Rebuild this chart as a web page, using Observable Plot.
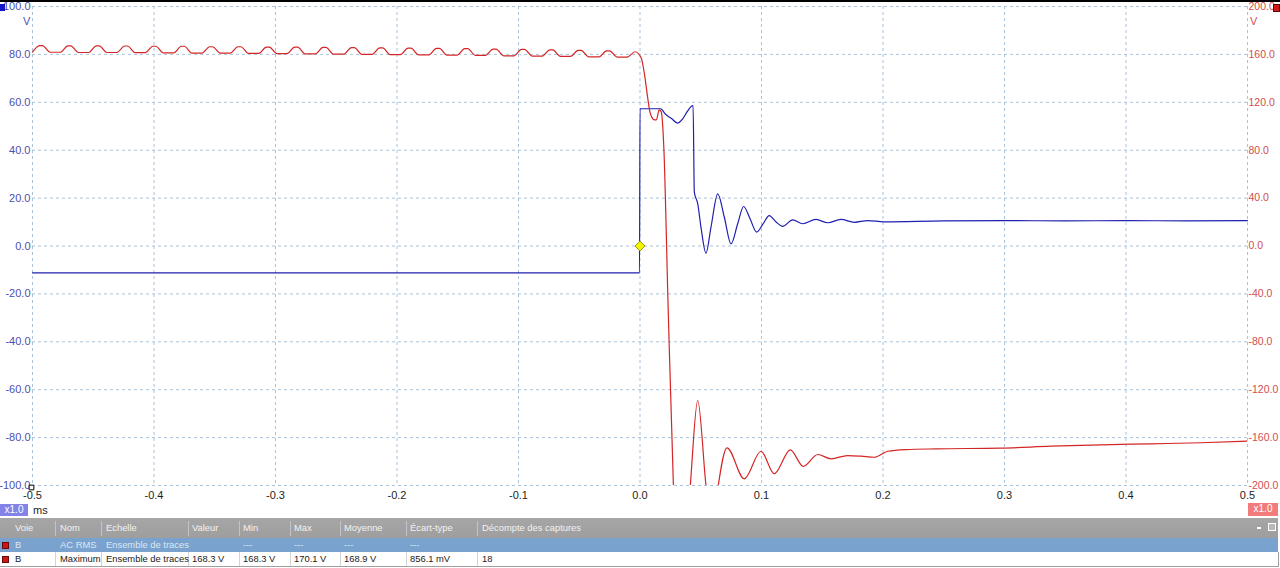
<!DOCTYPE html>
<html>
<head>
<meta charset="utf-8">
<script src="https://cdn.jsdelivr.net/npm/d3@7"></script>
<script src="https://cdn.jsdelivr.net/npm/@observablehq/plot@0.6"></script>
<style>
  body { margin: 0; background: #fff; font-family: "Liberation Sans", Arial, sans-serif; }
  #wrap { position: relative; width: 1280px; height: 568px; overflow: hidden; background: #fff; }
  #chart { position: absolute; left: 0; top: 0; }
  .abs { position: absolute; white-space: nowrap; }
  .badge { position: absolute; color: #fff; font-size: 10px; text-align: center; line-height: 12px; }
  .row { position: absolute; left: 0; width: 1278px; }
  .cell { position: absolute; font-size: 9.4px; white-space: nowrap; }
  .sep { position: absolute; width: 1px; }
  .sq { position: absolute; width: 5px; height: 5px; background: #c81818; border: 1px solid #6a0a0a; }
</style>
</head>
<body>
<div id="wrap">
  <div id="chart"></div>
</div>
<script>
// ---------- data ----------
const xTicks = [-0.5, -0.4, -0.3, -0.2, -0.1, 0, 0.1, 0.2, 0.3, 0.4, 0.5];
const yTicks = [-100, -80, -60, -40, -20, 0, 20, 40, 60, 80, 100];
const rightRatio = 200 / 100; // right axis range / left axis range

// Channel A (blue, left axis, V) — time in ms
const blueT = [-0.5, -0.3, -0.1, -0.0004, 0.0, 0.017, 0.021, 0.026, 0.031, 0.035, 0.039, 0.042, 0.0437,
  0.0447, 0.0475, 0.0502, 0.0543, 0.0584, 0.0640, 0.0694, 0.0749, 0.0804, 0.0853, 0.0905, 0.0960,
  0.1010, 0.1064, 0.1120, 0.1174, 0.1257, 0.1339, 0.1449, 0.1545, 0.1654, 0.1764, 0.1874, 0.2008,
  0.25, 0.30, 0.35, 0.40, 0.45, 0.5];
const blueV = [-11.2, -11.2, -11.2, -11.2, 57.3, 57.3, 55.0, 53.2, 51.3, 53.0, 56.2, 58.2, 58.6,
  22.5, 17.7, 7.8, -3.0, 7.8, 21.8, 12.0, 0.9, 9.3, 16.5, 11.5, 5.8,
  9.0, 12.7, 10.0, 8.2, 10.9, 9.3, 11.1, 9.7, 11.1, 9.9, 10.6, 10.1,
  10.5, 10.6, 10.5, 10.6, 10.5, 10.6];

// Channel B (red, right axis, V) — time in ms
const redT = [
  -0.5000, -0.4942, -0.4918, -0.4855,
  -0.4772, -0.4709, -0.4685, -0.4622,
  -0.4538, -0.4475, -0.4451, -0.4388,
  -0.4305, -0.4242, -0.4218, -0.4155,
  -0.4072, -0.4009, -0.3985, -0.3922,
  -0.3838, -0.3775, -0.3751, -0.3688,
  -0.3605, -0.3542, -0.3518, -0.3455,
  -0.3372, -0.3309, -0.3285, -0.3222,
  -0.3138, -0.3075, -0.3051, -0.2988,
  -0.2905, -0.2842, -0.2818, -0.2755,
  -0.2672, -0.2609, -0.2585, -0.2522,
  -0.2438, -0.2375, -0.2351, -0.2288,
  -0.2205, -0.2142, -0.2118, -0.2055,
  -0.1972, -0.1909, -0.1885, -0.1822,
  -0.1738, -0.1675, -0.1651, -0.1588,
  -0.1505, -0.1442, -0.1418, -0.1355,
  -0.1272, -0.1209, -0.1185, -0.1122,
  -0.1038, -0.0975, -0.0951, -0.0888,
  -0.0805, -0.0742, -0.0718, -0.0655,
  -0.0572, -0.0509, -0.0485, -0.0422,
  -0.0338, -0.0275, -0.0251, -0.0188,
  -0.0105, -0.0040, 0.0010, 0.0036, 0.0063, 0.0085, 0.0118, 0.0135, 0.0158, 0.0175, 0.0197, 0.0230, 0.0275,
  0.0340, 0.0414, 0.0475, 0.0543, 0.0595, 0.0644, 0.0716, 0.0858, 0.0996, 0.1105, 0.1237, 0.1344,
  0.1463, 0.1572, 0.1709, 0.1819, 0.1928, 0.2039, 0.2189, 0.2436, 0.2971, 0.3383, 0.3794, 0.4206,
  0.4617, 0.5];
const redV = [
  161.9, 167.4, 167.4, 161.8,
  161.8, 167.2, 167.2, 161.6,
  161.6, 167.2, 167.2, 161.6,
  161.6, 167.0, 167.0, 161.4,
  161.4, 166.8, 166.8, 161.2,
  161.2, 166.8, 166.8, 161.0,
  161.0, 166.4, 166.4, 161.0,
  161.0, 166.4, 166.4, 160.8,
  160.8, 166.0, 166.0, 160.6,
  160.6, 166.0, 166.0, 160.4,
  160.4, 165.8, 165.8, 160.2,
  160.2, 165.6, 165.6, 160.0,
  160.0, 165.4, 165.4, 159.8,
  159.8, 165.2, 165.2, 159.6,
  159.6, 165.0, 165.0, 159.4,
  159.4, 164.8, 164.8, 159.2,
  159.2, 164.4, 164.4, 158.8,
  158.8, 164.2, 164.2, 158.6,
  158.6, 163.8, 163.8, 158.4,
  158.4, 163.4, 163.4, 158.0,
  158.0, 163.0, 163.0, 157.8,
  157.8, 162.2, 157.0, 144.0, 124.0, 110.6, 105.4, 105.4, 113.7, 112.0, 80.0, -45.0, -200.0,
  -300.0, -200.0, -129.0, -200.0, -240.0, -200.0, -168.5, -194.4, -171.4, -190.2, -170.2, -184.1,
  -174.1, -177.7, -175.0, -175.5, -176.4, -171.4, -170.0, -169.4, -168.8, -167.2, -166.0, -165.2,
  -164.3, -163.0];

const triggerT = [0];
const triggerV = [0];
const originT = [-0.5];
const originV = [-100];

// table text
const headers = ["Voie", "Nom", "Echelle", "Valeur", "Min", "Max", "Moyenne", "Écart-type", "Décompte des captures"];
const row1 = ["B", "AC RMS", "Ensemble de traces", "", "---", "---", "---", "---", ""];
const row2 = ["B", "Maximum", "Ensemble de traces", "168.3 V", "168.3 V", "170.1 V", "168.9 V", "856.1 mV", "18"];

// ---------- build ----------
const blue = blueT.map((t, i) => ({t, v: blueV[i]}));
const red = redT.map((t, i) => ({t, v: redV[i]}));
const trigger = triggerT.map((t, i) => ({t, v: triggerV[i]}));
const origin = originT.map((t, i) => ({t, v: originV[i]}));

const fmt1 = d => (Math.abs(d) < 1e-9 ? 0 : d).toFixed(1);
const gridStyle = {stroke: "#a9c3da", strokeOpacity: 1, strokeDasharray: "3,3", strokeWidth: 1};

const chart = Plot.plot({
  width: 1280,
  height: 518,
  marginTop: 6,
  marginBottom: 33,
  marginLeft: 32,
  marginRight: 33,
  x: {domain: [-0.5, 0.5], label: null},
  y: {domain: [-100, 100], label: null},
  style: {fontFamily: "Liberation Sans, Arial, sans-serif", fontSize: "11px", background: "#fff", overflow: "visible"},
  marks: [
    Plot.gridX(xTicks, gridStyle),
    Plot.gridY(yTicks, gridStyle),
    Plot.axisX(xTicks, {tickSize: 0, tickPadding: 6, tickFormat: fmt1, color: "#1e1e1e", label: null}),
    Plot.axisY(yTicks, {anchor: "left", tickSize: 0, tickPadding: 2, tickFormat: fmt1, color: "#4e4eb2", label: null}),
    Plot.axisY(yTicks, {anchor: "right", tickSize: 0, tickPadding: 1, tickFormat: d => fmt1(d * rightRatio), color: "#d24e4e", label: null, fontSize: 10.5}),
    Plot.line(blue, {x: "t", y: "v", stroke: "#2020b0", strokeWidth: 1.2, curve: "monotone-x"}),
    Plot.line(red, {x: "t", y: d => d.v / rightRatio, stroke: "#d42626", strokeWidth: 1.2, curve: "monotone-x", clip: true}),
    Plot.dot(trigger, {x: "t", y: "v", symbol: "diamond2", r: 4.5, fill: "#f4f400", stroke: "#9a9a10", strokeWidth: 1}),
    Plot.dot(origin, {x: "t", y: "v", symbol: "square2", r: 3, fill: "#fff", stroke: "#000", strokeWidth: 1, dx: -1, dy: 2})
  ]
});
document.getElementById("chart").appendChild(chart);

// ---------- overlays ----------
const wrap = document.getElementById("wrap");
function add(html) { wrap.insertAdjacentHTML("beforeend", html); }

add('<div class="abs" style="left:0;top:0;width:1280px;height:2px;background:#000"></div>');
add('<div class="abs" style="left:0;top:4px;width:5px;height:7px;background:#1414c8"></div>');
add('<div class="abs" style="left:1273px;top:4px;width:5px;height:6px;background:#d01818;border:1px solid #5a0808"></div>');
add('<div class="abs" style="left:23px;top:15px;font-size:11px;color:#4e4eb2">V</div>');
add('<div class="abs" style="left:1250px;top:15px;font-size:11px;color:#d24e4e">V</div>');
add('<div class="badge" style="left:0;top:504px;width:28px;height:12px;background:#8282e8">x1.0</div>');
add('<div class="abs" style="left:33px;top:504px;font-size:11px;color:#1e1e1e">ms</div>');
add('<div class="badge" style="left:1248px;top:503px;width:30px;height:13px;background:#f27c7c">x1.0</div>');

// table
const colX = [15, 60, 106, 192, 243, 294, 344, 410, 482];
const sepX = [55, 101, 188, 239, 290, 340, 406, 477];
add('<div class="row" style="top:518px;height:20px;background:linear-gradient(#a6a6a6,#9e9e9e)"></div>');
add('<div class="row" style="top:538px;height:14px;background:#7aa2ce"></div>');
add('<div class="row" style="top:552px;height:14px;background:#fff;border-bottom:1px solid #a0a0a0;border-right:1px solid #a0a0a0"></div>');
sepX.forEach(x => {
  add(`<div class="sep" style="left:${x}px;top:521px;height:15px;background:#c4c4c4"></div>`);
  add(`<div class="sep" style="left:${x}px;top:552px;height:14px;background:#d4d4d4"></div>`);
});
headers.forEach((h, i) => add(`<div class="cell" style="left:${colX[i]}px;top:522px;color:#f2f2f2">${h}</div>`));
row1.forEach((h, i) => add(`<div class="cell" style="left:${colX[i]}px;top:539px;color:#dce7f3">${h}</div>`));
row2.forEach((h, i) => add(`<div class="cell" style="left:${colX[i]}px;top:553px;color:#1a1a1a">${h}</div>`));
add('<div class="sq" style="left:2px;top:542px"></div>');
add('<div class="sq" style="left:2px;top:556px"></div>');
add('<div class="abs" style="left:1257px;top:527px;width:4px;height:2px;background:#fff"></div>');
add('<div class="abs" style="left:1268px;top:523px;width:6px;height:6px;border:1px solid #fff;background:#b8b8b8"></div>');
</script>
</body>
</html>
